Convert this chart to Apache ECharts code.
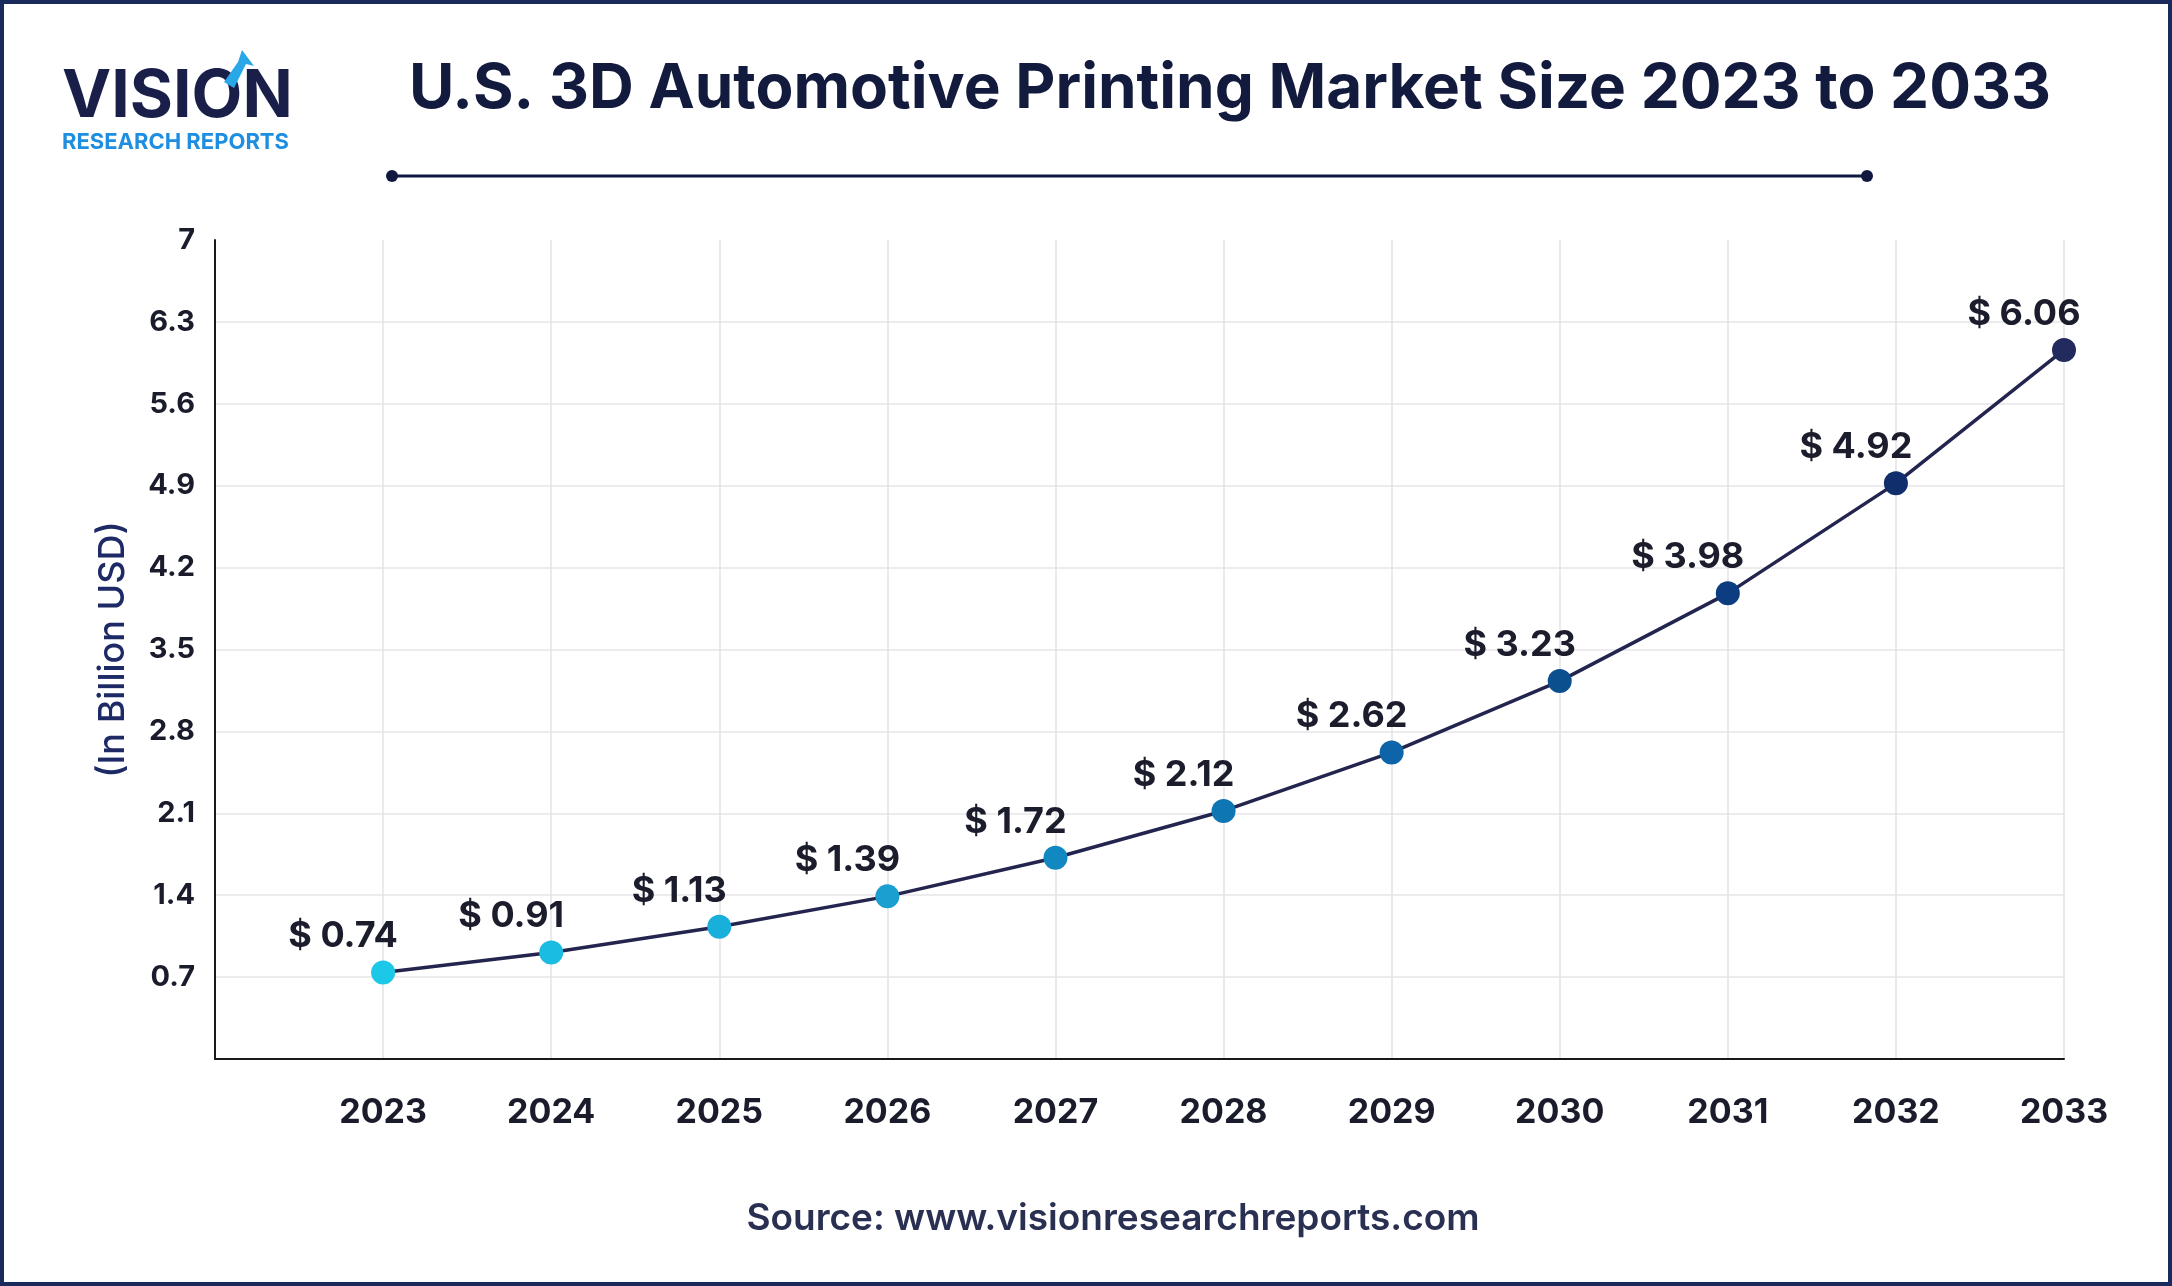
<!DOCTYPE html>
<html>
<head>
<meta charset="utf-8">
<script src="https://cdn.jsdelivr.net/npm/echarts@6/dist/echarts.min.js"></script>
<style>
html,body{margin:0;padding:0;background:#fff;}
#chart{width:2172px;height:1286px;}
</style>
</head>
<body>
<div id="chart"></div>
<script>
const years = [2023, 2024, 2025, 2026, 2027, 2028, 2029, 2030, 2031, 2032, 2033];
const values = [0.74, 0.91, 1.13, 1.39, 1.72, 2.12, 2.62, 3.23, 3.98, 4.92, 6.06];
const pointColors = ['#1cc8e8', '#1bbce2', '#19afdb', '#1a9fd0', '#1188c0', '#0f76b4', '#0d64a8', '#0b4f8f', '#0c3d80', '#112e6c', '#222a5e'];
const titleText = 'U.S. 3D Automotive Printing Market Size 2023 to 2033';
const yAxisName = '(In Billion USD)';
const sourceText = 'Source: www.visionresearchreports.com';

const chart = echarts.init(document.getElementById('chart'));
const fontFam = 'Inter, Roboto, sans-serif';

const data = years.map((y, i) => ({
  value: [y, values[i]],
  itemStyle: { color: pointColors[i] }
}));

chart.setOption({
  backgroundColor: '#ffffff',
  animation: false,
  grid: { left: 215, right: 108, top: 240, bottom: 227 },
  xAxis: {
    type: 'value', min: 2022, max: 2033, interval: 1,
    axisLine: { show: true, onZero: false, lineStyle: { color: '#1a1a1a', width: 2 } },
    axisTick: { show: false },
    axisLabel: {
      margin: 37, fontSize: 34, fontWeight: 'bold', color: '#1a1c2c', fontFamily: fontFam,
      formatter: v => (v === 2022 ? '' : String(v))
    },
    splitLine: { show: true, showMinLine: false, lineStyle: { color: '#e3e3e6', width: 1.5 } }
  },
  yAxis: {
    type: 'value', min: 0, max: 7, interval: 0.7,
    name: yAxisName, nameLocation: 'middle', nameGap: 84, nameRotate: 90,
    nameTextStyle: { fontSize: 36, fontWeight: 500, color: '#1e2a66', fontFamily: fontFam },
    axisLine: { show: true, lineStyle: { color: '#1a1a1a', width: 2 } },
    axisTick: { show: false },
    axisLabel: {
      margin: 20, fontSize: 29, fontWeight: 'bold', color: '#1a1c2c', fontFamily: fontFam,
      formatter: v => (v === 0 ? '' : String(Math.round(v * 10) / 10))
    },
    splitLine: { show: true, showMinLine: false, showMaxLine: false, lineStyle: { color: '#e6e6e8', width: 1.5 } }
  },
  series: [{
    type: 'line',
    data: data,
    symbol: 'circle',
    symbolSize: 24,
    lineStyle: { color: '#23254f', width: 3.5 },
    label: {
      show: true, position: 'top', distance: 6, offset: [-40, 0],
      fontSize: 36, fontWeight: 'bold', color: '#1b1c2c', fontFamily: fontFam,
      formatter: p => '$ ' + p.value[1].toFixed(2)
    },
    z: 5
  }],
  graphic: [
    { type: 'rect', shape: { x: 2, y: 2, width: 2168, height: 1282 }, style: { fill: 'none', stroke: '#1b2a5c', lineWidth: 4 }, silent: true },
    { type: 'text', x: 1230, y: 89, style: { text: titleText, fontSize: 62, fontWeight: 'bold', fill: '#121a3d', fontFamily: fontFam, align: 'center', verticalAlign: 'middle' } },
    { type: 'line', shape: { x1: 392, y1: 176, x2: 1867, y2: 176 }, style: { stroke: '#101840', lineWidth: 3 } },
    { type: 'circle', shape: { cx: 392, cy: 176, r: 6 }, style: { fill: '#101840' } },
    { type: 'circle', shape: { cx: 1867, cy: 176, r: 6 }, style: { fill: '#101840' } },
    { type: 'text', x: 62, y: 64, style: { text: 'VISION', fontSize: 66, fontWeight: 'bold', fill: '#1a1f4a', fontFamily: fontFam, letterSpacing: 3 } },
    { type: 'polygon', shape: { points: [[224, 82], [238, 62], [242, 50], [254, 66], [246, 64], [234, 88]] }, style: { fill: '#29a8e8' } },
    { type: 'text', x: 62, y: 131, style: { text: 'RESEARCH REPORTS', fontSize: 22, fontWeight: 'bold', fill: '#1e8fe0', fontFamily: fontFam, letterSpacing: 2 } },
    { type: 'text', x: 1113, y: 1219, style: { text: sourceText, fontSize: 37, fontWeight: 600, fill: '#2a3052', fontFamily: fontFam, align: 'center', verticalAlign: 'middle' } }
  ]
});
</script>
</body>
</html>
